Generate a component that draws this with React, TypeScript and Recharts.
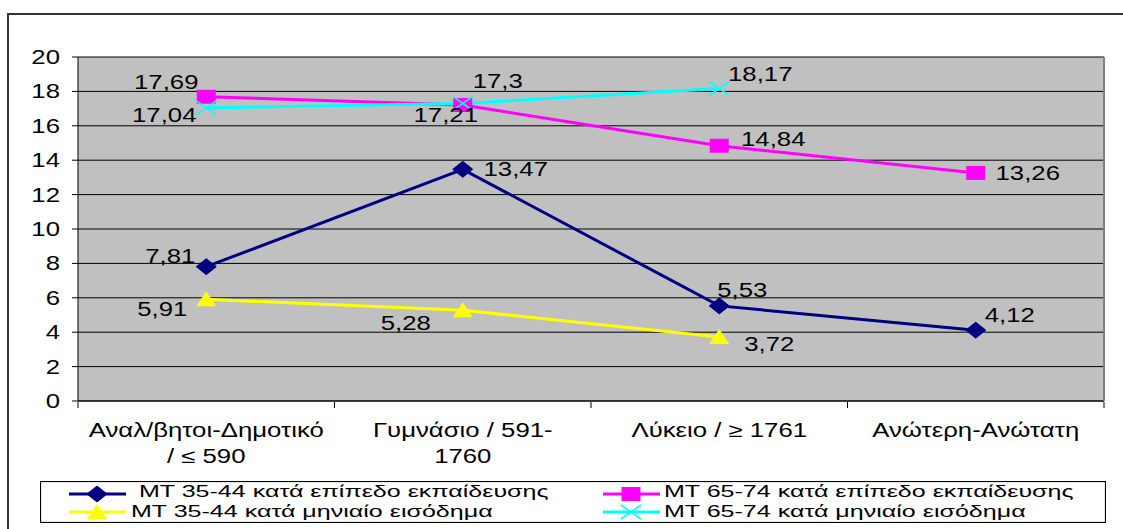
import React from 'react';
import { LineChart, Line, XAxis, YAxis, CartesianGrid, Legend, LabelList } from 'recharts';

// ---------- data ----------
const categories = ['Αναλ/βητοι-Δημοτικό\n/ ≤ 590', 'Γυμνάσιο / 591-\n1760', 'Λύκειο / ≥ 1761', 'Ανώτερη-Ανώτατη'];
const eduYoung = [7.81, 13.47, 5.53, 4.12];
const eduOld = [17.69, 17.21, 14.84, 13.26];
const incYoung = [5.91, 5.28, 3.72, null];
const incOld = [17.04, 17.3, 18.17, null];
const yTicks = [0, 2, 4, 6, 8, 10, 12, 14, 16, 18, 20];
const seriesNames = [
  'ΜΤ 35-44 κατά επίπεδο εκπαίδευσης',
  'ΜΤ 65-74 κατά επίπεδο εκπαίδευσης',
  'ΜΤ 35-44 κατά μηνιαίο εισόδημα',
  'ΜΤ 65-74 κατά μηνιαίο εισόδημα',
];

const data = categories.map((cat, i) => ({
  cat,
  eduYoung: eduYoung[i],
  eduOld: eduOld[i],
  incYoung: incYoung[i],
  incOld: incOld[i],
}));

// ---------- styles / layout ----------
const W = 1123;
const H = 529;
const PLOT_LEFT = 78;
const PLOT_RIGHT = 1104;
const PLOT_BOTTOM = 402;
const BAND = (PLOT_RIGHT - PLOT_LEFT) / 4;
const FONT = '"Liberation Sans", Arial, sans-serif';
const FS = 19.5;
const SX = 1.32;
const NAVY = '#000080';
const MAGENTA = '#FF00FF';
const YELLOW = '#FFFF00';
const CYAN = '#00FFFF';

// label offsets (center of label relative to point)
const offEduYoung = [[-36, -11], [53, 0], [23, -16], [34, -15]];
const offEduOld = [[-40, -15], [-17, 10], [54, -7], [52, 0]];
const offIncYoung = [[-44, 10], [-57, 13], [50, 7], [0, 0]];
const offIncOld = [[-42, 7], [35, -22], [41, -14], [0, 0]];

const SText = ({ x, y, anchor = 'middle', children, size = FS, sx = SX }: any) => (
  <text
    transform={`translate(${x},${y}) scale(${sx},1)`}
    textAnchor={anchor}
    fontFamily={FONT}
    fontSize={size}
    fill="#000"
  >
    {children}
  </text>
);

const fmt = (v: any) => String(v).replace('.', ',');

const makeLabel = (offs: number[][]) => (props: any) => {
  const { x, y, value, index } = props;
  if (value == null || x == null || y == null) return null;
  const [dx, dy] = offs[index] || [0, 0];
  return (
    <SText x={x + dx} y={y + dy + 7}>
      {fmt(value)}
    </SText>
  );
};

const Diamond = (p: any) => {
  const { cx, cy } = p;
  if (cx == null || cy == null) return <g />;
  return <polygon points={`${cx},${cy - 8} ${cx + 10},${cy} ${cx},${cy + 8} ${cx - 10},${cy}`} fill={NAVY} stroke={NAVY} />;
};
const Square = (p: any) => {
  const { cx, cy } = p;
  if (cx == null || cy == null) return <g />;
  return <rect x={cx - 9.5} y={cy - 7} width={19} height={14} fill={MAGENTA} />;
};
const Triangle = (p: any) => {
  const { cx, cy } = p;
  if (cx == null || cy == null) return <g />;
  return <polygon points={`${cx},${cy - 8} ${cx + 10},${cy + 7} ${cx - 10},${cy + 7}`} fill={YELLOW} />;
};
const Cross = (p: any) => {
  const { cx, cy } = p;
  if (cx == null || cy == null) return <g />;
  return (
    <g stroke={CYAN} strokeWidth={1.6}>
      <line x1={cx - 10} y1={cy - 7} x2={cx + 10} y2={cy + 7} />
      <line x1={cx - 10} y1={cy + 7} x2={cx + 10} y2={cy - 7} />
    </g>
  );
};

const XTick = (props: any) => {
  const { x, payload, index } = props;
  const lines = String(payload.value).split('\n');
  return (
    <g>
      <line x1={x - BAND / 2} y1={PLOT_BOTTOM} x2={x - BAND / 2} y2={PLOT_BOTTOM + 6} stroke="#000" />
      {index === categories.length - 1 && (
        <line x1={x + BAND / 2} y1={PLOT_BOTTOM} x2={x + BAND / 2} y2={PLOT_BOTTOM + 6} stroke="#000" />
      )}
      {lines.map((l, i) => (
        <SText key={i} x={x} y={437 + i * 26}>
          {l}
        </SText>
      ))}
    </g>
  );
};

const YTick = (props: any) => {
  const { y, payload } = props;
  return (
    <SText x={60} y={y + 7} anchor="end">
      {payload.value}
    </SText>
  );
};

const LegendSwatch = ({ x, y, color, marker }: any) => (
  <g>
    <line x1={x} y1={y} x2={x + 57} y2={y} stroke={color} strokeWidth={3} />
    {marker === 'diamond' && <Diamond cx={x + 28} cy={y} />}
    {marker === 'square' && <Square cx={x + 28} cy={y} />}
    {marker === 'triangle' && <Triangle cx={x + 28} cy={y} />}
    {marker === 'cross' && <Cross cx={x + 28} cy={y} />}
  </g>
);

const LegendBox = () => {
  const items = [
    { name: seriesNames[0], color: NAVY, marker: 'diamond', lx: 29, tx: 99, y: 13, ty: 16 },
    { name: seriesNames[1], color: MAGENTA, marker: 'square', lx: 563, tx: 624, y: 13, ty: 16 },
    { name: seriesNames[2], color: YELLOW, marker: 'triangle', lx: 29, tx: 91, y: 31, ty: 36 },
    { name: seriesNames[3], color: CYAN, marker: 'cross', lx: 563, tx: 624, y: 31, ty: 36 },
  ];
  return (
    <svg width={1066} height={42} style={{ display: 'block' }}>
      <rect x={0.5} y={0.5} width={1065} height={41} fill="#fff" stroke="#000" strokeWidth={1.2} />
      {items.map((it, i) => (
        <g key={i}>
          <LegendSwatch x={it.lx} y={it.y} color={it.color} marker={it.marker} />
          <SText x={it.tx} y={it.ty} anchor="start" size={17.4} sx={1.44}>
            {it.name}
          </SText>
        </g>
      ))}
    </svg>
  );
};

export default function App() {
  return (
    <div style={{ position: 'absolute', left: 0, top: 0, width: W, height: H, background: '#fff', overflow: 'hidden' }}>
      <div
        style={{
          position: 'absolute',
          left: 7,
          top: 13,
          width: W,
          height: H,
          borderLeft: '2px solid #333',
          borderTop: '2px solid #333',
        }}
      />
      <div style={{ position: 'absolute', left: 0, top: 0 }}>
        <LineChart width={W} height={H} data={data} margin={{ top: 57, right: 18, left: 0, bottom: 26 }}>
          <CartesianGrid vertical={false} stroke="#000" fill="#C0C0C0" fillOpacity={1} />
          <XAxis
            dataKey="cat"
            padding={{ left: BAND / 2, right: BAND / 2 }}
            tickLine={false}
            axisLine={{ stroke: '#000' }}
            height={60}
            interval={0}
            tick={<XTick />}
          />
          <YAxis
            width={78}
            domain={[0, 20]}
            ticks={yTicks}
            interval={0}
            tickSize={6}
            tickLine={{ stroke: '#000' }}
            axisLine={{ stroke: '#000' }}
            tick={<YTick />}
          />
          <YAxis
            yAxisId="r"
            orientation="right"
            width={1}
            domain={[0, 20]}
            tick={false}
            tickLine={false}
            axisLine={{ stroke: '#808080', strokeWidth: 2 }}
          />
          <Legend
            verticalAlign="bottom"
            height={41}
            wrapperStyle={{ position: 'absolute', left: 40, top: 481, width: 1066, height: 42 }}
            content={() => <LegendBox />}
          />
          <Line
            dataKey="eduYoung"
            name={seriesNames[0]}
            stroke={NAVY}
            strokeWidth={3}
            dot={<Diamond />}
            activeDot={false}
            isAnimationActive={false}
          >
            <LabelList dataKey="eduYoung" content={makeLabel(offEduYoung)} />
          </Line>
          <Line
            dataKey="eduOld"
            name={seriesNames[1]}
            stroke={MAGENTA}
            strokeWidth={3}
            dot={<Square />}
            activeDot={false}
            isAnimationActive={false}
          >
            <LabelList dataKey="eduOld" content={makeLabel(offEduOld)} />
          </Line>
          <Line
            dataKey="incYoung"
            name={seriesNames[2]}
            stroke={YELLOW}
            strokeWidth={3}
            dot={<Triangle />}
            activeDot={false}
            isAnimationActive={false}
          >
            <LabelList dataKey="incYoung" content={makeLabel(offIncYoung)} />
          </Line>
          <Line
            dataKey="incOld"
            name={seriesNames[3]}
            stroke={CYAN}
            strokeWidth={3}
            dot={<Cross />}
            activeDot={false}
            isAnimationActive={false}
          >
            <LabelList dataKey="incOld" content={makeLabel(offIncOld)} />
          </Line>
        </LineChart>
      </div>
    </div>
  );
}
